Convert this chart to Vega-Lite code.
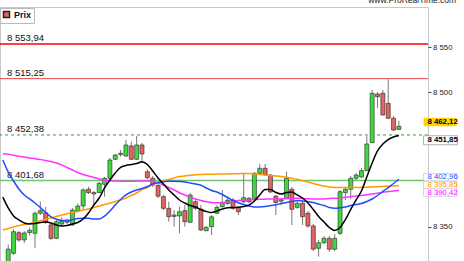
{
 "$schema": "https://vega.github.io/schema/vega-lite/v6.json",
 "width": 428, "height": 254,
 "autosize": {"type": "none"},
 "padding": {"left": 0, "top": 7, "right": 36, "bottom": 0},
 "background": "white",
 "title": {"text": "CAC40 Index 1 heure 8 462,12 -0,15 % 3 juil. 2026, 11:27:15", "anchor": "start", "frame": "group", "dx": 13, "offset": 4, "baseline": "alphabetic", "fontSize": 8.5, "fontWeight": "normal", "color": "#222", "font": "Liberation Sans"},
 "config": {"view": {"stroke": "#c8c8c8"}, "font": "Liberation Sans"},
 "datasets": {
  "candles": [
   {"i":0,"o":8308,"h":8330,"l":8305,"c":8325},
   {"i":1,"o":8320.3,"h":8347.4,"l":8318.4,"c":8344.4},
   {"i":2,"o":8343.3,"h":8345.2,"l":8333,"c":8335.2},
   {"i":3,"o":8335.2,"h":8345.2,"l":8331.8,"c":8343},
   {"i":4,"o":8343.5,"h":8349,"l":8340,"c":8346},
   {"i":5,"o":8342.6,"h":8366.7,"l":8325.9,"c":8365},
   {"i":6,"o":8365,"h":8378,"l":8363,"c":8367.9},
   {"i":7,"o":8365.5,"h":8372,"l":8353,"c":8355},
   {"i":8,"o":8352,"h":8354,"l":8335,"c":8337},
   {"i":9,"o":8337,"h":8357.5,"l":8336,"c":8355.5},
   {"i":10,"o":8353,"h":8360.8,"l":8351,"c":8356},
   {"i":11,"o":8357,"h":8359,"l":8353,"c":8355},
   {"i":12,"o":8352,"h":8371,"l":8351,"c":8368.6},
   {"i":13,"o":8367.5,"h":8376,"l":8366,"c":8373},
   {"i":14,"o":8373.1,"h":8393,"l":8368.6,"c":8391},
   {"i":15,"o":8391.8,"h":8394.6,"l":8386.5,"c":8388},
   {"i":16,"o":8388,"h":8389.8,"l":8374.2,"c":8386.5},
   {"i":17,"o":8388,"h":8400,"l":8387.6,"c":8398.4},
   {"i":18,"o":8397.3,"h":8405.5,"l":8383.5,"c":8404},
   {"i":19,"o":8404,"h":8426.7,"l":8403.2,"c":8424.4},
   {"i":20,"o":8425.2,"h":8431.1,"l":8424.4,"c":8430},
   {"i":21,"o":8430.5,"h":8435.6,"l":8428,"c":8432},
   {"i":22,"o":8428.9,"h":8446.8,"l":8427.8,"c":8441.2},
   {"i":23,"o":8440.1,"h":8444.9,"l":8424.4,"c":8425.2},
   {"i":24,"o":8425.2,"h":8451.2,"l":8424.4,"c":8441.2},
   {"i":25,"o":8441.2,"h":8443.4,"l":8420.8,"c":8431.1},
   {"i":26,"o":8411.3,"h":8414,"l":8402.9,"c":8404.7},
   {"i":27,"o":8404,"h":8406.6,"l":8394.3,"c":8396.5},
   {"i":28,"o":8396,"h":8398,"l":8382,"c":8384},
   {"i":29,"o":8383.5,"h":8385.4,"l":8368.6,"c":8370.5},
   {"i":30,"o":8370.5,"h":8377.9,"l":8355.6,"c":8361.2},
   {"i":31,"o":8361.5,"h":8368.6,"l":8350,"c":8363},
   {"i":32,"o":8362,"h":8372.3,"l":8342.6,"c":8366.7},
   {"i":33,"o":8367.9,"h":8374.2,"l":8350,"c":8355.6},
   {"i":34,"o":8355,"h":8387.6,"l":8354,"c":8385.4},
   {"i":35,"o":8377.9,"h":8381,"l":8368.6,"c":8370.5},
   {"i":36,"o":8369.4,"h":8374.2,"l":8345.2,"c":8346.3},
   {"i":37,"o":8345.5,"h":8350.8,"l":8345,"c":8349.3},
   {"i":38,"o":8350,"h":8363,"l":8340.7,"c":8361},
   {"i":39,"o":8365,"h":8374,"l":8364,"c":8371.6},
   {"i":40,"o":8372.3,"h":8391,"l":8371.4,"c":8376.8},
   {"i":41,"o":8376,"h":8382,"l":8374,"c":8379.5},
   {"i":42,"o":8379.8,"h":8382,"l":8368.6,"c":8370.5},
   {"i":43,"o":8371.4,"h":8373,"l":8363,"c":8366.8},
   {"i":44,"o":8377.9,"h":8409.6,"l":8376.4,"c":8382.4},
   {"i":45,"o":8381.7,"h":8383,"l":8376.4,"c":8377.9},
   {"i":46,"o":8381.7,"h":8411,"l":8381,"c":8409.6},
   {"i":47,"o":8409.6,"h":8420,"l":8408.8,"c":8415.2},
   {"i":48,"o":8415.2,"h":8420,"l":8406.6,"c":8407.7},
   {"i":49,"o":8407.7,"h":8408.8,"l":8387.6,"c":8388.8},
   {"i":50,"o":8384,"h":8385.4,"l":8363,"c":8377},
   {"i":51,"o":8378.5,"h":8381,"l":8374,"c":8380},
   {"i":52,"o":8381.7,"h":8411.4,"l":8381,"c":8404},
   {"i":53,"o":8391.8,"h":8394.3,"l":8351.9,"c":8369.4},
   {"i":54,"o":8371.6,"h":8378.7,"l":8369.8,"c":8376.1},
   {"i":55,"o":8376.1,"h":8378.7,"l":8351.9,"c":8361.2},
   {"i":56,"o":8365,"h":8367.5,"l":8348.5,"c":8350.8},
   {"i":57,"o":8350.8,"h":8353,"l":8322.9,"c":8325},
   {"i":58,"o":8325.9,"h":8335.2,"l":8316.5,"c":8332.1},
   {"i":59,"o":8332.1,"h":8339.6,"l":8330.7,"c":8337},
   {"i":60,"o":8337,"h":8339.6,"l":8321.8,"c":8324.8},
   {"i":61,"o":8324.8,"h":8341.8,"l":8322.9,"c":8337},
   {"i":62,"o":8342.6,"h":8391,"l":8340.7,"c":8389},
   {"i":63,"o":8388,"h":8394.3,"l":8379.8,"c":8391.8},
   {"i":64,"o":8391.8,"h":8406.6,"l":8380.6,"c":8404},
   {"i":65,"o":8404,"h":8410,"l":8402.1,"c":8407.7},
   {"i":66,"o":8405.5,"h":8415.5,"l":8404.4,"c":8412.5},
   {"i":67,"o":8412.5,"h":8451.2,"l":8412.2,"c":8442.3},
   {"i":68,"o":8443.8,"h":8502.6,"l":8443.4,"c":8498.9},
   {"i":69,"o":8498.1,"h":8500.3,"l":8482.4,"c":8495.1},
   {"i":70,"o":8498.9,"h":8502.6,"l":8474,"c":8474.7},
   {"i":71,"o":8487.7,"h":8514.5,"l":8470,"c":8471},
   {"i":72,"o":8471,"h":8473.5,"l":8456.8,"c":8457.9},
   {"i":73,"o":8458.7,"h":8468.3,"l":8457.9,"c":8462.12}
  ],
  "ma": [
   {"i":-1,"k":8383,"b":8424.4,"g":8346.3,"m":8431.5},
   {"i":0,"k":8370.9,"b":8411,"g":8348,"m":8430.8},
   {"i":1,"k":8362,"b":8401,"g":8349.6,"m":8429.8},
   {"i":2,"k":8357.5,"b":8392.1,"g":8351.3,"m":8428.6},
   {"i":3,"k":8354.1,"b":8385.4,"g":8352.5,"m":8427.8},
   {"i":4,"k":8353,"b":8381,"g":8353.6,"m":8426.7},
   {"i":5,"k":8353.6,"b":8376.4,"g":8354.9,"m":8425.9},
   {"i":6,"k":8354.7,"b":8371.4,"g":8356.6,"m":8424.9},
   {"i":7,"k":8355.2,"b":8365.8,"g":8358.3,"m":8423.9},
   {"i":8,"k":8354.1,"b":8361,"g":8359.7,"m":8422.8},
   {"i":9,"k":8351.9,"b":8358.3,"g":8361.4,"m":8421.1},
   {"i":10,"k":8350.8,"b":8356.9,"g":8363.1,"m":8418.9},
   {"i":11,"k":8351.3,"b":8356.9,"g":8364.4,"m":8416.1},
   {"i":12,"k":8353,"b":8358,"g":8365.8,"m":8413.3},
   {"i":13,"k":8354.7,"b":8359.1,"g":8366.9,"m":8410.5},
   {"i":14,"k":8358.6,"b":8359.3,"g":8368.6,"m":8408.3},
   {"i":15,"k":8365.3,"b":8359.3,"g":8369.7,"m":8406.6},
   {"i":16,"k":8374.2,"b":8358.6,"g":8371.4,"m":8404.9},
   {"i":17,"k":8382,"b":8358.6,"g":8373.1,"m":8403.2},
   {"i":18,"k":8393.2,"b":8361.9,"g":8374.8,"m":8402.1},
   {"i":19,"k":8402.1,"b":8367.5,"g":8376.1,"m":8401.3},
   {"i":20,"k":8410,"b":8374.2,"g":8378.1,"m":8401},
   {"i":21,"k":8416.1,"b":8380.4,"g":8379.8,"m":8400.8},
   {"i":22,"k":8418.3,"b":8385.4,"g":8382,"m":8400.7},
   {"i":23,"k":8419.4,"b":8388.7,"g":8384.8,"m":8400.7},
   {"i":24,"k":8420.5,"b":8391,"g":8387.6,"m":8400.8},
   {"i":25,"k":8422.5,"b":8392.6,"g":8391.5,"m":8401},
   {"i":26,"k":8419.4,"b":8394.9,"g":8393.7,"m":8401},
   {"i":27,"k":8412.2,"b":8397.6,"g":8397.1,"m":8400.4},
   {"i":28,"k":8404.4,"b":8399.3,"g":8399.3,"m":8398.8},
   {"i":29,"k":8397.7,"b":8400.1,"g":8401,"m":8396.5},
   {"i":30,"k":8391,"b":8400.8,"g":8402.7,"m":8393.7},
   {"i":31,"k":8385.4,"b":8400.7,"g":8404.4,"m":8391},
   {"i":32,"k":8379.8,"b":8400.4,"g":8406.1,"m":8387.9},
   {"i":33,"k":8376.4,"b":8399.9,"g":8406.6,"m":8385.4},
   {"i":34,"k":8373.7,"b":8398.7,"g":8407.4,"m":8382.9},
   {"i":35,"k":8372,"b":8397.6,"g":8408,"m":8380.9},
   {"i":36,"k":8369.2,"b":8396.2,"g":8408.3,"m":8379.2},
   {"i":37,"k":8367,"b":8393.2,"g":8408.5,"m":8377.9},
   {"i":38,"k":8365.8,"b":8390.4,"g":8408.5,"m":8377},
   {"i":39,"k":8367.5,"b":8388.7,"g":8408.8,"m":8376.8},
   {"i":40,"k":8369.8,"b":8385.9,"g":8408.8,"m":8377.1},
   {"i":41,"k":8371.1,"b":8382.6,"g":8408.8,"m":8377.8},
   {"i":42,"k":8371.4,"b":8379.2,"g":8409.1,"m":8378.7},
   {"i":43,"k":8371.6,"b":8376.7,"g":8409.2,"m":8379.2},
   {"i":44,"k":8372.5,"b":8374.8,"g":8409.4,"m":8379.7},
   {"i":45,"k":8374.2,"b":8373.1,"g":8409.4,"m":8379.8},
   {"i":46,"k":8378.6,"b":8372,"g":8408.8,"m":8380.2},
   {"i":47,"k":8385.4,"b":8372,"g":8408.3,"m":8380.5},
   {"i":48,"k":8391.5,"b":8372.5,"g":8407.7,"m":8380.7},
   {"i":49,"k":8391.5,"b":8373.6,"g":8407.1,"m":8380.9},
   {"i":50,"k":8388.2,"b":8374.4,"g":8406.6,"m":8380.9},
   {"i":51,"k":8386.5,"b":8375.8,"g":8406,"m":8381.1},
   {"i":52,"k":8388.2,"b":8376.9,"g":8405.1,"m":8381.3},
   {"i":53,"k":8388.7,"b":8378.1,"g":8404,"m":8381.6},
   {"i":54,"k":8385.4,"b":8379.2,"g":8402.9,"m":8381.7},
   {"i":55,"k":8382,"b":8378.6,"g":8401.3,"m":8381.5},
   {"i":56,"k":8376.4,"b":8378.1,"g":8399.9,"m":8381.1},
   {"i":57,"k":8369.2,"b":8376.9,"g":8398.2,"m":8380.9},
   {"i":58,"k":8361.4,"b":8375.3,"g":8396.5,"m":8380.8},
   {"i":59,"k":8355.2,"b":8373.6,"g":8395.4,"m":8381},
   {"i":60,"k":8349.1,"b":8371.4,"g":8394.3,"m":8381.5},
   {"i":61,"k":8345.8,"b":8370.5,"g":8393.7,"m":8381.8},
   {"i":62,"k":8349.1,"b":8371.1,"g":8393.7,"m":8382.3},
   {"i":63,"k":8358,"b":8372,"g":8393.7,"m":8382.8},
   {"i":64,"k":8369.2,"b":8373.6,"g":8393.7,"m":8383.6},
   {"i":65,"k":8379.8,"b":8374.8,"g":8393.7,"m":8384.3},
   {"i":66,"k":8389.8,"b":8375.8,"g":8393.9,"m":8384.8},
   {"i":67,"k":8405.4,"b":8378.1,"g":8394,"m":8385.6},
   {"i":68,"k":8421.1,"b":8380.9,"g":8394.3,"m":8386.5},
   {"i":69,"k":8434.5,"b":8384.8,"g":8394.6,"m":8387.4},
   {"i":70,"k":8442.3,"b":8389.3,"g":8394.9,"m":8388.3},
   {"i":71,"k":8447.3,"b":8393.7,"g":8395.2,"m":8389.2},
   {"i":72,"k":8450.1,"b":8398.2,"g":8395.4,"m":8389.8},
   {"i":73,"k":8451.85,"b":8402.96,"g":8395.85,"m":8390.42}
  ],
  "levels": [
   {"v":8553.94,"t":"8 553,94"},
   {"v":8515.25,"t":"8 515,25"},
   {"v":8452.38,"t":"8 452,38"},
   {"v":8401.68,"t":"8 401,68"}
  ]
 },
 "layer": [
  {"data": {"values": [{"v": 8553.94}]}, "mark": {"type": "rule", "color": "#ff0000", "strokeWidth": 1.6},
   "encoding": {"y": {"field": "v", "type": "quantitative", "scale": {"domain": [8311.7, 8595.2], "nice": false, "zero": false},
     "axis": {"orient": "right", "values": [8350, 8500, 8550], "labelExpr": "replace(format(datum.value, ','), ',', ' ')", "title": null, "domain": false, "grid": false, "ticks": true, "tickSize": 3, "tickColor": "#444", "labelFontSize": 7.8, "labelColor": "#222", "labelPadding": 1.5, "labelFont": "Liberation Sans"}}}},
  {"data": {"values": [{"v": 8515.25}]}, "mark": {"type": "rule", "color": "#e84646", "strokeWidth": 1},
   "encoding": {"y": {"field": "v", "type": "quantitative"}}},
  {"data": {"values": [{"v": 8452.38}]}, "mark": {"type": "rule", "color": "#3a963a", "strokeWidth": 1, "strokeDash": [3, 3]},
   "encoding": {"y": {"field": "v", "type": "quantitative"}}},
  {"data": {"values": [{"v": 8401.68}]}, "mark": {"type": "rule", "color": "#72c472", "strokeWidth": 1.5},
   "encoding": {"y": {"field": "v", "type": "quantitative"}}},
  {"data": {"name": "levels"}, "mark": {"type": "text", "align": "left", "baseline": "alphabetic", "dx": 2, "dy": -2.5, "fontSize": 9.5, "color": "#111"},
   "encoding": {"x": {"datum": -0.6, "type": "quantitative", "scale": {"domain": [-0.6, 77.5], "nice": false, "zero": false}, "axis": null},
     "y": {"field": "v", "type": "quantitative"}, "text": {"field": "t"}}},
  {"data": {"name": "candles"}, "mark": {"type": "rule", "color": "#7a7a7a", "strokeWidth": 1, "clip": true},
   "encoding": {"x": {"field": "i", "type": "quantitative", "axis": null},
     "y": {"field": "l", "type": "quantitative"}, "y2": {"field": "h"}}},
  {"data": {"name": "candles"}, "mark": {"type": "bar", "width": 4, "strokeWidth": 0.6, "clip": true},
   "encoding": {"x": {"field": "i", "type": "quantitative", "axis": null},
     "y": {"field": "o", "type": "quantitative"}, "y2": {"field": "c"},
     "color": {"condition": {"test": "datum.c >= datum.o", "value": "#3fd93f"}, "value": "#e46464"},
     "stroke": {"datum": "Prix", "type": "nominal", "scale": {"range": ["#222222"]},
       "legend": {"title": null, "orient": "none", "legendX": 0, "legendY": 1, "padding": 2, "strokeColor": "#bbbbbb", "fillColor": "white", "labelFontSize": 9, "labelFontWeight": "bold", "labelColor": "#111", "symbolType": "square", "symbolSize": 36, "symbolFillColor": "#3fd93f", "symbolStrokeColor": "#e04848", "symbolStrokeWidth": 1.5, "labelOffset": 3, "labelFont": "Liberation Sans"}}}},
  {"data": {"name": "ma"}, "mark": {"type": "line", "color": "#ff33ff", "strokeWidth": 1.5, "clip": true, "interpolate": "monotone"},
   "encoding": {"x": {"field": "i", "type": "quantitative", "axis": null}, "y": {"field": "m", "type": "quantitative"}}},
  {"data": {"name": "ma"}, "mark": {"type": "line", "color": "#ff9a00", "strokeWidth": 1.5, "clip": true, "interpolate": "monotone"},
   "encoding": {"x": {"field": "i", "type": "quantitative", "axis": null}, "y": {"field": "g", "type": "quantitative"}}},
  {"data": {"name": "ma"}, "mark": {"type": "line", "color": "#1f4cff", "strokeWidth": 1.5, "clip": true, "interpolate": "monotone"},
   "encoding": {"x": {"field": "i", "type": "quantitative", "axis": null}, "y": {"field": "b", "type": "quantitative"}}},
  {"data": {"name": "ma"}, "mark": {"type": "line", "color": "#000000", "strokeWidth": 1.5, "clip": true, "interpolate": "monotone"},
   "encoding": {"x": {"field": "i", "type": "quantitative", "axis": null}, "y": {"field": "k", "type": "quantitative"}}},
  {"data": {"values": [{"v": 8462.12}]}, "mark": {"type": "point", "shape": "M-1,-0.26H1V0.26H-1Z", "size": 1089, "filled": true, "fill": "#ffd500", "opacity": 1, "strokeWidth": 0, "yOffset": -4.3},
   "encoding": {"x": {"datum": 80.69, "type": "quantitative", "axis": null}, "y": {"field": "v", "type": "quantitative"}}},
  {"data": {"values": [{"v": 8451.85}]}, "mark": {"type": "point", "shape": "M-1,-0.265H1V0.265H-1Z", "size": 1156, "filled": true, "fill": "#ffffff", "stroke": "#9a9a9a", "strokeWidth": 0.8, "opacity": 1, "yOffset": 4.8},
   "encoding": {"x": {"datum": 80.78, "type": "quantitative", "axis": null}, "y": {"field": "v", "type": "quantitative"}}},
  {"data": {"values": [{"v": 8402.96}]}, "mark": {"type": "point", "shape": "M-1,-0.225H1V0.225H-1Z", "size": 1089, "filled": true, "fill": "#ffffff", "stroke": "#c8c8d8", "strokeWidth": 0.8, "opacity": 1, "yOffset": -2},
   "encoding": {"x": {"datum": 80.69, "type": "quantitative", "axis": null}, "y": {"field": "v", "type": "quantitative"}}},
  {"data": {"values": [{"v": 8395.85}]}, "mark": {"type": "point", "shape": "M-1,-0.225H1V0.225H-1Z", "size": 1089, "filled": true, "fill": "#ffffff", "stroke": "#c8c8d8", "strokeWidth": 0.8, "opacity": 1, "yOffset": -0.6},
   "encoding": {"x": {"datum": 80.69, "type": "quantitative", "axis": null}, "y": {"field": "v", "type": "quantitative"}}},
  {"data": {"values": [{"v": 8390.42}]}, "mark": {"type": "point", "shape": "M-1,-0.225H1V0.225H-1Z", "size": 1089, "filled": true, "fill": "#ffffff", "stroke": "#c8c8d8", "strokeWidth": 0.8, "opacity": 1, "yOffset": 2.1},
   "encoding": {"x": {"datum": 80.69, "type": "quantitative", "axis": null}, "y": {"field": "v", "type": "quantitative"}}},
  {"data": {"values": [{"v": 8462.12, "t": "8 462,12"}]}, "mark": {"type": "text", "align": "left", "baseline": "middle", "dy": -4.3, "fontSize": 7.8, "fontWeight": "bold", "color": "#000"},
   "encoding": {"x": {"datum": 78.32, "type": "quantitative", "axis": null}, "y": {"field": "v", "type": "quantitative"}, "text": {"field": "t"}}},
  {"data": {"values": [{"v": 8451.85, "t": "8 451,85"}]}, "mark": {"type": "text", "align": "left", "baseline": "middle", "dy": 4.8, "fontSize": 7.8, "fontWeight": "bold", "color": "#000"},
   "encoding": {"x": {"datum": 78.32, "type": "quantitative", "axis": null}, "y": {"field": "v", "type": "quantitative"}, "text": {"field": "t"}}},
  {"data": {"values": [{"v": 8402.96, "t": "8 402,96"}]}, "mark": {"type": "text", "align": "left", "baseline": "middle", "dy": -2, "fontSize": 7.8, "color": "#1f4cff"},
   "encoding": {"x": {"datum": 78.32, "type": "quantitative", "axis": null}, "y": {"field": "v", "type": "quantitative"}, "text": {"field": "t"}}},
  {"data": {"values": [{"v": 8395.85, "t": "8 395,85"}]}, "mark": {"type": "text", "align": "left", "baseline": "middle", "dy": -0.6, "fontSize": 7.8, "color": "#ff9a00"},
   "encoding": {"x": {"datum": 78.32, "type": "quantitative", "axis": null}, "y": {"field": "v", "type": "quantitative"}, "text": {"field": "t"}}},
  {"data": {"values": [{"v": 8390.42, "t": "8 390,42"}]}, "mark": {"type": "text", "align": "left", "baseline": "middle", "dy": 2.1, "fontSize": 7.8, "color": "#ff00ff"},
   "encoding": {"x": {"datum": 78.32, "type": "quantitative", "axis": null}, "y": {"field": "v", "type": "quantitative"}, "text": {"field": "t"}}},
  {"data": {"values": [{"v": 8599.7, "t": "www.ProRealTime.com"}]}, "mark": {"type": "text", "align": "right", "baseline": "alphabetic", "fontSize": 8.5, "color": "#222"},
   "encoding": {"x": {"datum": 83.7, "type": "quantitative", "axis": null}, "y": {"field": "v", "type": "quantitative"}, "text": {"field": "t"}}}
 ]
}
